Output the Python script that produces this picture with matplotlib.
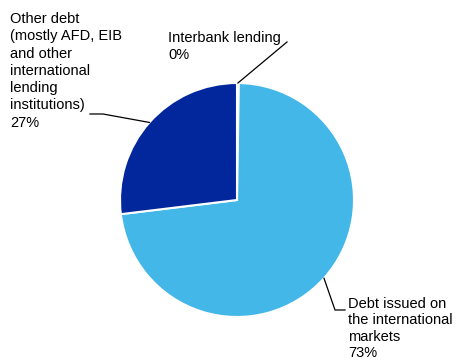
import numpy as np
import matplotlib as mpl
import matplotlib.pyplot as plt

mpl.rcParams['font.family'] = ['Liberation Sans', 'DejaVu Sans']
mpl.rcParams['font.size'] = 10.5

# data
labels = ['Interbank lending',
          'Debt issued on\nthe international\nmarkets',
          'Other debt\n(mostly AFD, EIB\nand other\ninternational\nlending\ninstitutions)']
values = [0.25, 73, 27]
colors = ['#ffffff', '#43b7e8', '#02279c']

W, H = 457, 362
fig = plt.figure(figsize=(W / 100, H / 100), dpi=100)
ax = fig.add_axes([0, 0, 1, 1])
ax.set_xlim(0, W)
ax.set_ylim(0, H)
ax.set_aspect('equal')
ax.axis('off')

cx, cy, r = 237, H - 200, 117
wedges, _ = ax.pie(values, colors=colors, startangle=90, counterclock=False,
                   center=(cx, cy), radius=r,
                   wedgeprops=dict(edgecolor='white', linewidth=1.5))
ax.set_xlim(0, W)
ax.set_ylim(0, H)

pct = [f'{round(v / sum(values) * 100):.0f}%' for v in values]

def anchor(w):
    a = np.deg2rad((w.theta1 + w.theta2) / 2)
    return cx + r * np.cos(a), cy + r * np.sin(a)

ls = 1.3

# interbank
x0, y0 = anchor(wedges[0])
ax.plot([x0, 287], [y0, H - 42], color='black', lw=0.9)
ax.text(168, H - 31, labels[0] + '\n' + pct[0], va='top', ha='left', linespacing=ls)

# debt issued
x0, y0 = anchor(wedges[1])
ax.plot([x0, 335, 345], [y0, H - 310, H - 310], color='black', lw=0.9)
ax.text(348, H - 297, labels[1] + '\n' + pct[1], va='top', ha='left', linespacing=1.22)

# other debt
x0, y0 = anchor(wedges[2])
ax.plot([x0, 103, 90], [y0, H - 114, H - 114], color='black', lw=0.9)
ax.text(10, H - 12, labels[2] + '\n' + pct[2], va='top', ha='left', linespacing=ls)

plt.savefig('out.png', dpi=100)
